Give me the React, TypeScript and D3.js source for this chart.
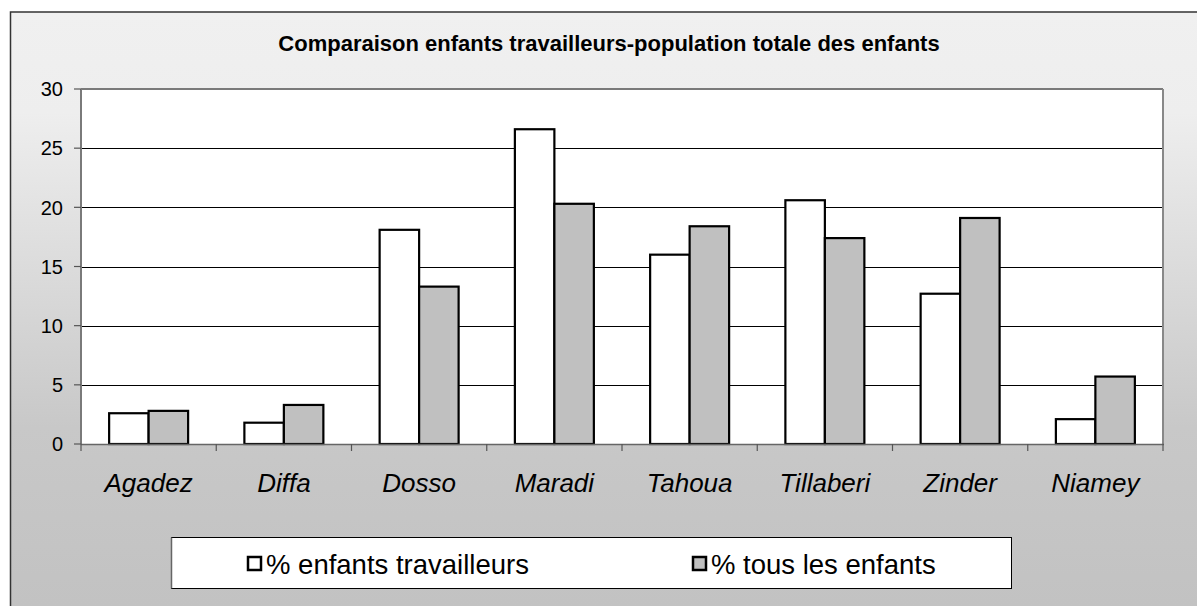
import React from "react";
import * as d3 from "d3";

const categories = ["Agadez", "Diffa", "Dosso", "Maradi", "Tahoua", "Tillaberi", "Zinder", "Niamey"];
const seriesNames = ["% enfants travailleurs", "% tous les enfants"];
const travailleurs = [2.6, 1.8, 18.1, 26.6, 16.0, 20.6, 12.7, 2.1];
const tousEnfants = [2.8, 3.3, 13.3, 20.3, 18.4, 17.4, 19.1, 5.7];
const yTicks = [0, 5, 10, 15, 20, 25, 30];
const title = "Comparaison enfants travailleurs-population totale des enfants";

const fills = ["#ffffff", "#c0c0c0"];

export default function App() {
  const W = 1197, H = 606;
  const left = 81, right = 1163, top = 89, bottom = 444;
  const x = d3.scaleBand<string>().domain(categories).range([left, right]).paddingInner(0).paddingOuter(0);
  const bw = x.bandwidth();
  const groupPad = 0.208;
  const inner = d3.scaleBand<number>().domain([0, 1]).range([bw * groupPad, bw * (1 - groupPad)]);
  const y = d3.scaleLinear().domain([0, 30]).range([bottom, top]);
  const series = [travailleurs, tousEnfants];
  const font = "'Liberation Sans', Arimo, sans-serif";

  return (
    <svg width={W} height={H} style={{ position: "absolute", left: 0, top: 0, display: "block" }} fontFamily={font}>
      <defs>
        <linearGradient id="bg" x1="0" y1="12" x2="0" y2="606" gradientUnits="userSpaceOnUse">
          <stop offset="0" stopColor="#f0f0f0" />
          <stop offset="0.17" stopColor="#eeeeee" />
          <stop offset="0.7" stopColor="#c8c8c8" />
          <stop offset="1" stopColor="#c2c2c2" />
        </linearGradient>
      </defs>
      <rect x={0} y={0} width={W} height={H} fill="#ffffff" />
      <rect x={10.5} y={12} width={W + 20} height={H + 20} fill="url(#bg)" stroke="#333" strokeWidth={1.5} />
      <text x={609} y={51} textAnchor="middle" fontWeight="bold" fontSize={22} fill="#000">{title}</text>
      {/* plot area */}
      <rect x={left} y={top} width={right - left} height={bottom - top} fill="#ffffff" />
      {yTicks.filter(t => t > 0 && t < 30).map(t => (
        <line key={t} x1={left} x2={right} y1={Math.round(y(t)) + 0.5} y2={Math.round(y(t)) + 0.5} stroke="#000" strokeWidth={1} />
      ))}
      {/* frame */}
      <line x1={left} x2={right} y1={top} y2={top} stroke="#7a7a7a" strokeWidth={2} />
      <line x1={right} x2={right} y1={top} y2={bottom} stroke="#888" strokeWidth={2} />
      <line x1={left} x2={left} y1={top} y2={bottom} stroke="#7a7a7a" strokeWidth={2} />
      {/* bars */}
      {categories.map((c, i) => (
        <g key={c}>
          {series.map((s, j) => (
            <rect key={j} x={(x(c) as number) + (inner(j) as number)} y={y(s[i])} width={inner.bandwidth()} height={bottom - y(s[i])}
              fill={fills[j]} stroke="#000" strokeWidth={2.2} />
          ))}
        </g>
      ))}
      {/* x axis */}
      <line x1={left} x2={right + 1} y1={bottom + 0.5} y2={bottom + 0.5} stroke="#666" strokeWidth={1.5} />
      {categories.map((c) => (
        <line key={c} x1={(x(c) as number)} x2={(x(c) as number)} y1={bottom} y2={bottom + 7} stroke="#555" strokeWidth={1.2} />
      ))}
      <line x1={right} x2={right} y1={bottom} y2={bottom + 7} stroke="#555" strokeWidth={1.2} />
      {/* y axis ticks */}
      {yTicks.map(t => (
        <g key={t}>
          <line x1={left - 7} x2={left} y1={y(t)} y2={y(t)} stroke="#555" strokeWidth={1.2} />
          <text x={63} y={y(t)} dy="0.36em" textAnchor="end" fontSize={20} fill="#000">{t}</text>
        </g>
      ))}
      {categories.map(c => (
        <text key={c} x={(x(c) as number) + bw / 2} y={492} textAnchor="middle" fontStyle="italic" fontSize={26} fill="#000">{c}</text>
      ))}
      {/* legend */}
      <rect x={171.5} y={537.5} width={840} height={51} fill="#ffffff" stroke="#000" strokeWidth={1} />
      <line x1={171.5} x2={171.5} y1={537.5} y2={588.5} stroke="#666" strokeWidth={1.5} />
      {seriesNames.map((n, j) => {
        const mx = j === 0 ? 248 : 693;
        return (
          <g key={n}>
            <rect x={mx} y={557} width={13} height={13} fill={fills[j]} stroke="#000" strokeWidth={2.5} />
            <text x={mx + 18} y={574} fontSize={27.5} fill="#000">{n}</text>
          </g>
        );
      })}
    </svg>
  );
}
